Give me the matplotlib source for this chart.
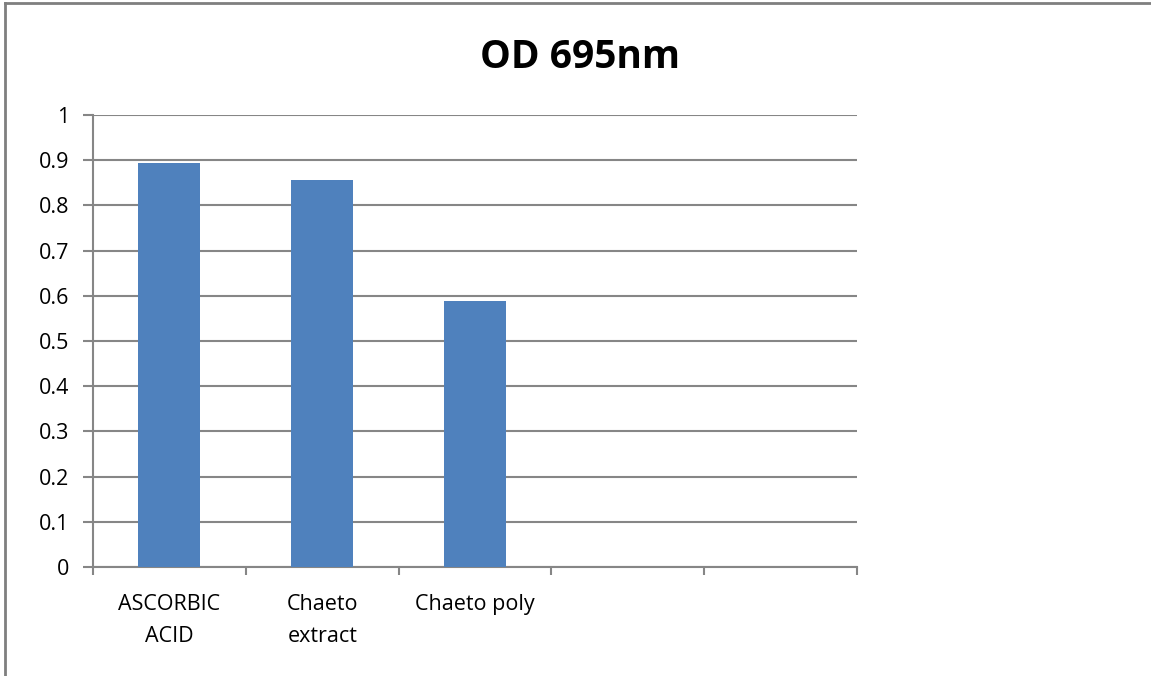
import matplotlib
matplotlib.use("Agg")
import matplotlib.pyplot as plt
from matplotlib.lines import Line2D
import numpy as np

plt.rcParams["font.family"] = ["Open Sans", "DejaVu Sans"]

# category slots on the axis (last two are empty)
categories = ["ASCORBIC\nACID", "Chaeto\nextract", "Chaeto poly", "", ""]
od_values = [0.894, 0.857, 0.589]
y_ticks = [0, 0.1, 0.2, 0.3, 0.4, 0.5, 0.6, 0.7, 0.8, 0.9, 1]
y_tick_labels = ["0", "0.1", "0.2", "0.3", "0.4", "0.5", "0.6", "0.7", "0.8", "0.9", "1"]

W, H = 1151, 676
fig = plt.figure(figsize=(W / 100, H / 100), dpi=100)
ax = fig.add_axes([93 / W, 1 - 567 / H, (857 - 93) / W, (567 - 115) / H])

grid_color = "#868686"
bar_color = "#4f81bd"

x = np.arange(len(od_values))
ax.bar(x, od_values, width=0.405, color=bar_color, zorder=3)

ax.set_xlim(-0.5, len(categories) - 0.5)
ax.set_ylim(0, 1)

# gridlines
ax.set_yticks(y_ticks)
ax.set_yticklabels(y_tick_labels, fontsize=15.5)
ax.yaxis.grid(True, color=grid_color, linewidth=1.5, zorder=0)

# boundary ticks on the x axis, labels at category centres
ax.set_xticks(np.arange(len(categories) + 1) - 0.5)
ax.set_xticklabels([])
ax.set_xticks(np.arange(len(categories)), minor=True)
ax.set_xticklabels(categories, minor=True, fontsize=15.5, linespacing=1.68, va="top")
ax.tick_params(axis="x", which="major", direction="out", length=6, width=1.5, color=grid_color)
ax.tick_params(axis="x", which="minor", length=0, pad=19.5)
ax.tick_params(axis="y", direction="out", length=7, width=1.5, color=grid_color, pad=10)

for side in ["top", "right"]:
    ax.spines[side].set_visible(False)
for side in ["left", "bottom"]:
    ax.spines[side].set_color(grid_color)
    ax.spines[side].set_linewidth(1.5)

fig.text(580 / W, 1 - 57 / H, "OD 695nm", ha="center", va="center",
         fontsize=28, fontweight="bold")

# chart frame
fig.add_artist(Line2D([5 / W, 5 / W], [0, 1 - 2.5 / H], transform=fig.transFigure,
                      color="#7f7f7f", linewidth=2))
fig.add_artist(Line2D([5 / W, 1], [1 - 2.5 / H, 1 - 2.5 / H], transform=fig.transFigure,
                      color="#7f7f7f", linewidth=2))

fig.savefig("out.png", dpi=100)
